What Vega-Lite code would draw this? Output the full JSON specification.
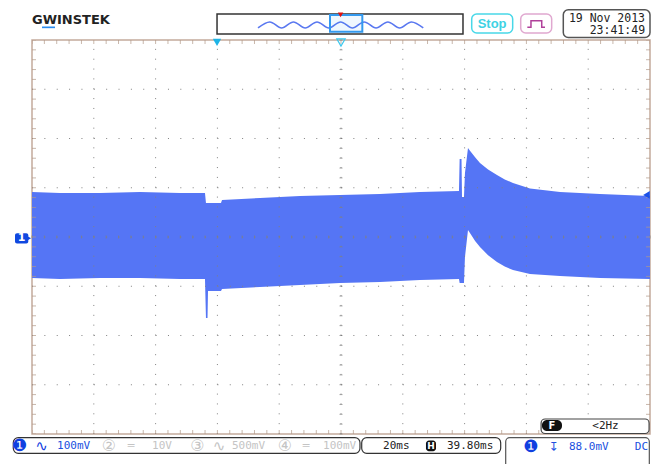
{
 "$schema": "https://vega.github.io/schema/vega-lite/v6.json",
 "width": 618, "height": 394,
 "autosize": {"type": "none"},
 "padding": {"left": 32, "top": 40, "right": 9, "bottom": 30},
 "background": "white",
 "config": {"view": {"stroke": "#c4ab9c", "strokeWidth": 1.5}, "axis": {"disable": true}},
 "data": {"values": [{}]},
 "datasets": {
  "sig": [{"t":0,"hi":0.914,"lo":-0.833},{"t":0.453,"hi":0.893,"lo":-0.853},{"t":1.1,"hi":0.893,"lo":-0.833},{"t":1.748,"hi":0.914,"lo":-0.833},{"t":2.395,"hi":0.893,"lo":-0.853},{"t":2.799,"hi":0.893,"lo":-0.853},{"t":2.815,"hi":0.69,"lo":-1.645},{"t":2.84,"hi":0.69,"lo":-1.645},{"t":2.848,"hi":0.69,"lo":-1.096},{"t":3.058,"hi":0.69,"lo":-1.096},{"t":3.075,"hi":0.751,"lo":-1.056},{"t":3.689,"hi":0.792,"lo":-1.015},{"t":4.337,"hi":0.833,"lo":-0.975},{"t":4.984,"hi":0.853,"lo":-0.934},{"t":5.631,"hi":0.873,"lo":-0.914},{"t":6.278,"hi":0.914,"lo":-0.873},{"t":6.909,"hi":0.934,"lo":-0.853},{"t":6.92,"hi":1.584,"lo":-0.934},{"t":6.95,"hi":1.584,"lo":-0.934},{"t":6.958,"hi":0.812,"lo":-0.934},{"t":6.99,"hi":0.812,"lo":-0.934},{"t":7.006,"hi":1.3,"lo":-0.406},{"t":7.055,"hi":1.807,"lo":0.142},{"t":7.087,"hi":1.75,"lo":0.081},{"t":7.17,"hi":1.62,"lo":-0.08},{"t":7.249,"hi":1.503,"lo":-0.203},{"t":7.38,"hi":1.37,"lo":-0.37},{"t":7.524,"hi":1.259,"lo":-0.508},{"t":7.65,"hi":1.17,"lo":-0.6},{"t":7.783,"hi":1.096,"lo":-0.67},{"t":8.058,"hi":0.985,"lo":-0.751},{"t":8.544,"hi":0.914,"lo":-0.792},{"t":9.191,"hi":0.873,"lo":-0.833},{"t":10,"hi":0.833,"lo":-0.853}],
  "gx": [{"v":1},{"v":2},{"v":3},{"v":4},{"v":5},{"v":6},{"v":7},{"v":8},{"v":9}],
  "gy": [{"v":-3},{"v":-2},{"v":-1},{"v":0},{"v":1},{"v":2},{"v":3}],
  "xt": [{"v":0},{"v":0.2},{"v":0.4},{"v":0.6},{"v":0.8},{"v":1},{"v":1.2},{"v":1.4},{"v":1.6},{"v":1.8},{"v":2},{"v":2.2},{"v":2.4},{"v":2.6},{"v":2.8},{"v":3},{"v":3.2},{"v":3.4},{"v":3.6},{"v":3.8},{"v":4},{"v":4.2},{"v":4.4},{"v":4.6},{"v":4.8},{"v":5},{"v":5.2},{"v":5.4},{"v":5.6},{"v":5.8},{"v":6},{"v":6.2},{"v":6.4},{"v":6.6},{"v":6.8},{"v":7},{"v":7.2},{"v":7.4},{"v":7.6},{"v":7.8},{"v":8},{"v":8.2},{"v":8.4},{"v":8.6},{"v":8.8},{"v":9},{"v":9.2},{"v":9.4},{"v":9.6},{"v":9.8},{"v":10}],
  "yt": [{"v":-4},{"v":-3.8},{"v":-3.6},{"v":-3.4},{"v":-3.2},{"v":-3},{"v":-2.8},{"v":-2.6},{"v":-2.4},{"v":-2.2},{"v":-2},{"v":-1.8},{"v":-1.6},{"v":-1.4},{"v":-1.2},{"v":-1},{"v":-0.8},{"v":-0.6},{"v":-0.4},{"v":-0.2},{"v":0},{"v":0.2},{"v":0.4},{"v":0.6},{"v":0.8},{"v":1},{"v":1.2},{"v":1.4},{"v":1.6},{"v":1.8},{"v":2},{"v":2.2},{"v":2.4},{"v":2.6},{"v":2.8},{"v":3},{"v":3.2},{"v":3.4},{"v":3.6},{"v":3.8},{"v":4}],
  "wave": [{"t":3.657,"v":4.244},{"t":3.848,"v":4.366},{"t":4.039,"v":4.244},{"t":4.23,"v":4.366},{"t":4.421,"v":4.244},{"t":4.612,"v":4.366},{"t":4.803,"v":4.244},{"t":4.994,"v":4.366},{"t":5.185,"v":4.244},{"t":5.376,"v":4.366},{"t":5.567,"v":4.244},{"t":5.758,"v":4.366},{"t":5.949,"v":4.244},{"t":6.14,"v":4.366},{"t":6.331,"v":4.244}],
  "pulse": [{"t":8.015,"v":4.258},{"t":8.074,"v":4.258},{"t":8.074,"v":4.392},{"t":8.248,"v":4.392},{"t":8.248,"v":4.258},{"t":8.301,"v":4.258}]
 },
 "layer": [
  {"data": {"name": "sig"}, "mark": {"type": "area", "color": "#5575f5", "interpolate": "linear"},
   "encoding": {"x": {"field": "t", "type": "quantitative", "scale": {"domain": [0, 10], "nice": false, "zero": false}},
    "y": {"field": "hi", "type": "quantitative", "scale": {"domain": [-4, 4], "nice": false, "zero": false}},
    "y2": {"field": "lo"}}},
  {"data": {"name": "gx"}, "mark": {"type": "rule", "color": "#808080", "strokeWidth": 1, "strokeDash": [1, 8.85]},
   "encoding": {"x": {"field": "v", "type": "quantitative"}, "y": {"datum": -4, "type": "quantitative"}, "y2": {"datum": 4}}},
  {"data": {"name": "gy"}, "mark": {"type": "rule", "color": "#808080", "strokeWidth": 1, "strokeDash": [1, 11.36]},
   "encoding": {"y": {"field": "v", "type": "quantitative"}, "x": {"datum": 0, "type": "quantitative"}, "x2": {"datum": 10}}},
  {"data": {"name": "xt"}, "mark": {"type": "tick", "orient": "vertical", "color": "#b09888", "size": 8, "thickness": 1, "clip": true},
   "encoding": {"x": {"field": "v", "type": "quantitative"}, "y": {"datum": 4, "type": "quantitative"}}},
  {"data": {"name": "xt"}, "mark": {"type": "tick", "orient": "vertical", "color": "#b09888", "size": 8, "thickness": 1, "clip": true},
   "encoding": {"x": {"field": "v", "type": "quantitative"}, "y": {"datum": -4, "type": "quantitative"}}},
  {"data": {"name": "xt"}, "mark": {"type": "tick", "orient": "vertical", "color": "#808080", "size": 3, "thickness": 1},
   "encoding": {"x": {"field": "v", "type": "quantitative"}, "y": {"datum": 0, "type": "quantitative"}}},
  {"data": {"name": "yt"}, "mark": {"type": "tick", "orient": "horizontal", "color": "#b09888", "size": 8, "thickness": 1, "clip": true},
   "encoding": {"y": {"field": "v", "type": "quantitative"}, "x": {"datum": 0, "type": "quantitative"}}},
  {"data": {"name": "yt"}, "mark": {"type": "tick", "orient": "horizontal", "color": "#b09888", "size": 8, "thickness": 1, "clip": true},
   "encoding": {"y": {"field": "v", "type": "quantitative"}, "x": {"datum": 10, "type": "quantitative"}}},
  {"data": {"name": "yt"}, "mark": {"type": "tick", "orient": "horizontal", "color": "#808080", "size": 3, "thickness": 1},
   "encoding": {"y": {"field": "v", "type": "quantitative"}, "x": {"datum": 5, "type": "quantitative"}}},

  {"mark": {"type": "point", "shape": "triangle-down", "filled": true, "color": "#1eb4e6", "size": 70, "opacity": 1},
   "encoding": {"x": {"datum": 2.994, "type": "quantitative"}, "y": {"datum": 3.95, "type": "quantitative"}}},
  {"mark": {"type": "point", "shape": "triangle-down", "filled": false, "color": "#3cc8ee", "size": 70, "strokeWidth": 1.2, "opacity": 1},
   "encoding": {"x": {"datum": 5, "type": "quantitative"}, "y": {"datum": 3.95, "type": "quantitative"}}},
  {"mark": {"type": "point", "shape": "triangle-left", "filled": true, "color": "#1a50e8", "size": 60, "opacity": 1},
   "encoding": {"x": {"datum": 9.943, "type": "quantitative"}, "y": {"datum": 0.853, "type": "quantitative"}}},
  {"mark": {"type": "rect", "fill": "#1048e0", "cornerRadius": 2},
   "encoding": {"x": {"datum": -0.275, "type": "quantitative"}, "x2": {"datum": -0.06}, "y": {"datum": 0.075, "type": "quantitative"}, "y2": {"datum": -0.13}}},
  {"mark": {"type": "point", "shape": "triangle-right", "filled": true, "color": "#1048e0", "size": 25, "opacity": 1},
   "encoding": {"x": {"datum": -0.05, "type": "quantitative"}, "y": {"datum": -0.027, "type": "quantitative"}}},
  {"mark": {"type": "text", "text": "1", "font": "DejaVu Sans", "fontWeight": "bold", "fontSize": 11, "color": "white", "align": "center", "baseline": "middle"},
   "encoding": {"x": {"datum": -0.17, "type": "quantitative"}, "y": {"datum": -0.027, "type": "quantitative"}}},

  {"mark": {"type": "text", "text": "GWINSTEK", "font": "DejaVu Sans", "fontWeight": "bold", "fontSize": 13, "color": "#222222", "align": "left", "baseline": "middle"},
   "encoding": {"x": {"datum": 0, "type": "quantitative"}, "y": {"datum": 4.396, "type": "quantitative"}}},
  {"mark": {"type": "rect", "fill": "#2a8cf0"},
   "encoding": {"x": {"datum": 0.162, "type": "quantitative"}, "x2": {"datum": 0.372}, "y": {"datum": 4.274, "type": "quantitative"}, "y2": {"datum": 4.24}}},
  {"mark": {"type": "rect", "fill": "white", "stroke": "#333333", "strokeWidth": 1.5},
   "encoding": {"x": {"datum": 2.994, "type": "quantitative"}, "x2": {"datum": 6.974}, "y": {"datum": 4.528, "type": "quantitative"}, "y2": {"datum": 4.122}}},
  {"data": {"name": "wave"}, "mark": {"type": "line", "color": "#5a78f0", "strokeWidth": 1.6, "interpolate": "monotone"},
   "encoding": {"x": {"field": "t", "type": "quantitative"}, "y": {"field": "v", "type": "quantitative"}}},
  {"mark": {"type": "rect", "fill": "#3399ee", "fillOpacity": 0.08, "stroke": "#3399ee", "strokeWidth": 2},
   "encoding": {"x": {"datum": 4.822, "type": "quantitative"}, "x2": {"datum": 5.345}, "y": {"datum": 4.507, "type": "quantitative"}, "y2": {"datum": 4.168}}},
  {"mark": {"type": "point", "shape": "triangle-down", "filled": true, "color": "#e01010", "size": 30, "opacity": 1},
   "encoding": {"x": {"datum": 4.993, "type": "quantitative"}, "y": {"datum": 4.51, "type": "quantitative"}}},
  {"mark": {"type": "rect", "fill": "white", "stroke": "#48d8e8", "strokeWidth": 1.5, "cornerRadius": 5},
   "encoding": {"x": {"datum": 7.115, "type": "quantitative"}, "x2": {"datum": 7.778}, "y": {"datum": 4.528, "type": "quantitative"}, "y2": {"datum": 4.142}}},
  {"mark": {"type": "text", "text": "Stop", "font": "Liberation Sans", "fontWeight": "bold", "fontSize": 13, "color": "#3ed2e4", "align": "center", "baseline": "middle"},
   "encoding": {"x": {"datum": 7.445, "type": "quantitative"}, "y": {"datum": 4.335, "type": "quantitative"}}},
  {"mark": {"type": "rect", "fill": "white", "stroke": "#e0a8d0", "strokeWidth": 1.5, "cornerRadius": 5},
   "encoding": {"x": {"datum": 7.908, "type": "quantitative"}, "x2": {"datum": 8.409}, "y": {"datum": 4.528, "type": "quantitative"}, "y2": {"datum": 4.142}}},
  {"data": {"name": "pulse"}, "mark": {"type": "line", "color": "#b0409a", "strokeWidth": 1.5},
   "encoding": {"x": {"field": "t", "type": "quantitative"}, "y": {"field": "v", "type": "quantitative"}, "order": {"field": "t"}}},
  {"mark": {"type": "rect", "fill": "white", "stroke": "#555555", "strokeWidth": 1.5, "cornerRadius": 5},
   "encoding": {"x": {"datum": 8.597, "type": "quantitative"}, "x2": {"datum": 10.0}, "y": {"datum": 4.615, "type": "quantitative"}, "y2": {"datum": 4.05}}},
  {"mark": {"type": "text", "text": "19 Nov 2013", "font": "DejaVu Sans Mono", "fontSize": 11.5, "color": "#222222", "align": "right", "baseline": "middle"},
   "encoding": {"x": {"datum": 9.92, "type": "quantitative"}, "y": {"datum": 4.433, "type": "quantitative"}}},
  {"mark": {"type": "text", "text": "23:41:49", "font": "DejaVu Sans Mono", "fontSize": 11.5, "color": "#222222", "align": "right", "baseline": "middle"},
   "encoding": {"x": {"datum": 9.92, "type": "quantitative"}, "y": {"datum": 4.177, "type": "quantitative"}}},

  {"mark": {"type": "rect", "fill": "white", "stroke": "#444444", "strokeWidth": 1.2, "cornerRadius": 4},
   "encoding": {"x": {"datum": 8.238, "type": "quantitative"}, "x2": {"datum": 9.985}, "y": {"datum": -3.695, "type": "quantitative"}, "y2": {"datum": -3.99}}},
  {"mark": {"type": "rect", "fill": "#111111", "cornerRadius": 5},
   "encoding": {"x": {"datum": 8.252, "type": "quantitative"}, "x2": {"datum": 8.576}, "y": {"datum": -3.716, "type": "quantitative"}, "y2": {"datum": -3.939}}},
  {"mark": {"type": "text", "text": "F", "font": "DejaVu Sans", "fontWeight": "bold", "fontSize": 10, "color": "white", "align": "center", "baseline": "middle"},
   "encoding": {"x": {"datum": 8.414, "type": "quantitative"}, "y": {"datum": -3.828, "type": "quantitative"}}},
  {"mark": {"type": "text", "text": "<2Hz", "font": "DejaVu Sans Mono", "fontSize": 11, "color": "#222222", "align": "center", "baseline": "middle"},
   "encoding": {"x": {"datum": 9.28, "type": "quantitative"}, "y": {"datum": -3.84, "type": "quantitative"}}},

  {"mark": {"type": "rect", "fill": "white", "stroke": "#333333", "strokeWidth": 1.2, "cornerRadius": 5},
   "encoding": {"x": {"datum": -0.303, "type": "quantitative"}, "x2": {"datum": 5.307}, "y": {"datum": -4.075, "type": "quantitative"}, "y2": {"datum": -4.392}}},
  {"mark": {"type": "text", "text": "❶", "font": "DejaVu Sans", "fontSize": 17, "color": "#1040e0", "align": "center", "baseline": "middle"},
   "encoding": {"x": {"datum": -0.202, "type": "quantitative"}, "y": {"datum": -4.235, "type": "quantitative"}}},
  {"mark": {"type": "text", "text": "∿", "font": "DejaVu Sans", "fontSize": 15, "color": "#1040e0", "align": "center", "baseline": "middle"},
   "encoding": {"x": {"datum": 0.154, "type": "quantitative"}, "y": {"datum": -4.24, "type": "quantitative"}}},
  {"mark": {"type": "text", "text": "100mV", "font": "DejaVu Sans Mono", "fontSize": 11, "color": "#2050e0", "align": "left", "baseline": "middle"},
   "encoding": {"x": {"datum": 0.405, "type": "quantitative"}, "y": {"datum": -4.24, "type": "quantitative"}}},
  {"mark": {"type": "text", "text": "②", "font": "DejaVu Sans", "fontSize": 16, "color": "#c4c4c4", "align": "center", "baseline": "middle"},
   "encoding": {"x": {"datum": 1.246, "type": "quantitative"}, "y": {"datum": -4.235, "type": "quantitative"}}},
  {"mark": {"type": "text", "text": "═", "font": "DejaVu Sans", "fontSize": 11, "color": "#c4c4c4", "align": "center", "baseline": "middle"},
   "encoding": {"x": {"datum": 1.602, "type": "quantitative"}, "y": {"datum": -4.24, "type": "quantitative"}}},
  {"mark": {"type": "text", "text": "10V", "font": "DejaVu Sans Mono", "fontSize": 11, "color": "#c4c4c4", "align": "left", "baseline": "middle"},
   "encoding": {"x": {"datum": 1.942, "type": "quantitative"}, "y": {"datum": -4.24, "type": "quantitative"}}},
  {"mark": {"type": "text", "text": "③", "font": "DejaVu Sans", "fontSize": 16, "color": "#c4c4c4", "align": "center", "baseline": "middle"},
   "encoding": {"x": {"datum": 2.678, "type": "quantitative"}, "y": {"datum": -4.235, "type": "quantitative"}}},
  {"mark": {"type": "text", "text": "∿", "font": "DejaVu Sans", "fontSize": 15, "color": "#c4c4c4", "align": "center", "baseline": "middle"},
   "encoding": {"x": {"datum": 3.026, "type": "quantitative"}, "y": {"datum": -4.24, "type": "quantitative"}}},
  {"mark": {"type": "text", "text": "500mV", "font": "DejaVu Sans Mono", "fontSize": 11, "color": "#c4c4c4", "align": "left", "baseline": "middle"},
   "encoding": {"x": {"datum": 3.236, "type": "quantitative"}, "y": {"datum": -4.24, "type": "quantitative"}}},
  {"mark": {"type": "text", "text": "④", "font": "DejaVu Sans", "fontSize": 16, "color": "#c4c4c4", "align": "center", "baseline": "middle"},
   "encoding": {"x": {"datum": 4.094, "type": "quantitative"}, "y": {"datum": -4.235, "type": "quantitative"}}},
  {"mark": {"type": "text", "text": "═", "font": "DejaVu Sans", "fontSize": 11, "color": "#c4c4c4", "align": "center", "baseline": "middle"},
   "encoding": {"x": {"datum": 4.434, "type": "quantitative"}, "y": {"datum": -4.24, "type": "quantitative"}}},
  {"mark": {"type": "text", "text": "100mV", "font": "DejaVu Sans Mono", "fontSize": 11, "color": "#c4c4c4", "align": "left", "baseline": "middle"},
   "encoding": {"x": {"datum": 4.709, "type": "quantitative"}, "y": {"datum": -4.24, "type": "quantitative"}}},

  {"mark": {"type": "rect", "fill": "white", "stroke": "#333333", "strokeWidth": 1.2, "cornerRadius": 5},
   "encoding": {"x": {"datum": 5.335, "type": "quantitative"}, "x2": {"datum": 7.584}, "y": {"datum": -4.075, "type": "quantitative"}, "y2": {"datum": -4.392}}},
  {"mark": {"type": "text", "text": "20ms", "font": "DejaVu Sans Mono", "fontSize": 11, "color": "#222222", "align": "left", "baseline": "middle"},
   "encoding": {"x": {"datum": 5.68, "type": "quantitative"}, "y": {"datum": -4.24, "type": "quantitative"}}},
  {"mark": {"type": "rect", "fill": "#111111", "cornerRadius": 3},
   "encoding": {"x": {"datum": 6.375, "type": "quantitative"}, "x2": {"datum": 6.537}, "y": {"datum": -4.13, "type": "quantitative"}, "y2": {"datum": -4.35}}},
  {"mark": {"type": "text", "text": "H", "font": "DejaVu Sans", "fontWeight": "bold", "fontSize": 9, "color": "white", "align": "center", "baseline": "middle"},
   "encoding": {"x": {"datum": 6.456, "type": "quantitative"}, "y": {"datum": -4.24, "type": "quantitative"}}},
  {"mark": {"type": "text", "text": "39.80ms", "font": "DejaVu Sans Mono", "fontSize": 11, "color": "#222222", "align": "left", "baseline": "middle"},
   "encoding": {"x": {"datum": 6.715, "type": "quantitative"}, "y": {"datum": -4.24, "type": "quantitative"}}},

  {"mark": {"type": "rect", "fill": "white", "stroke": "#555555", "strokeWidth": 1.2, "cornerRadius": 4},
   "encoding": {"x": {"datum": 7.665, "type": "quantitative"}, "x2": {"datum": 9.989}, "y": {"datum": -4.075, "type": "quantitative"}, "y2": {"datum": -4.9}}},
  {"mark": {"type": "text", "text": "❶", "font": "DejaVu Sans", "fontSize": 17, "color": "#1040e0", "align": "center", "baseline": "middle"},
   "encoding": {"x": {"datum": 8.074, "type": "quantitative"}, "y": {"datum": -4.255, "type": "quantitative"}}},
  {"mark": {"type": "text", "text": "↧", "font": "DejaVu Sans", "fontSize": 12, "color": "#2050e0", "align": "center", "baseline": "middle"},
   "encoding": {"x": {"datum": 8.438, "type": "quantitative"}, "y": {"datum": -4.258, "type": "quantitative"}}},
  {"mark": {"type": "text", "text": "88.0mV", "font": "DejaVu Sans Mono", "fontSize": 11, "color": "#2050e0", "align": "left", "baseline": "middle"},
   "encoding": {"x": {"datum": 8.689, "type": "quantitative"}, "y": {"datum": -4.258, "type": "quantitative"}}},
  {"mark": {"type": "text", "text": "DC", "font": "DejaVu Sans Mono", "fontSize": 11, "color": "#2050e0", "align": "right", "baseline": "middle"},
   "encoding": {"x": {"datum": 9.968, "type": "quantitative"}, "y": {"datum": -4.258, "type": "quantitative"}}}
 ]
}
